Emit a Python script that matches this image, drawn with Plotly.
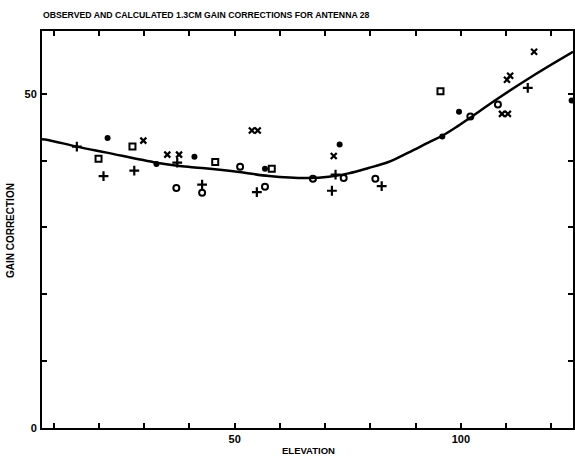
import plotly.graph_objects as go

# Calculated curve
curve_x = [7.4, 8.7, 15.1, 21.7, 32.7, 37.8, 42.8, 51.0, 57.6, 66.4, 70.8, 75.2, 79.6, 84.0, 88.4, 92.8, 96.1, 99.4, 102.0, 108.2, 116.4, 124.8]
curve_y = [43.2, 43.1, 42.1, 41.2, 39.7, 39.2, 38.9, 38.3, 37.7, 37.4, 37.6, 38.1, 38.9, 39.8, 41.2, 42.7, 43.8, 45.2, 46.4, 49.3, 52.9, 56.3]

# Observed points by symbol
plus_x = [15.1, 21.0, 27.8, 37.3, 42.8, 54.9, 71.5, 72.3, 82.5, 114.8]
plus_y = [42.1, 37.7, 38.5, 39.7, 36.4, 35.3, 35.5, 37.9, 36.2, 50.9]

cross_x = [29.8, 35.1, 37.7, 53.8, 55.1, 71.9, 110.2, 110.9, 109.1, 110.4, 116.2]
cross_y = [43.0, 40.9, 40.9, 44.5, 44.5, 40.7, 52.1, 52.7, 47.0, 47.0, 56.3]

ocircle_x = [37.1, 42.8, 51.2, 56.7, 67.3, 74.1, 81.1, 102.1, 108.2]
ocircle_y = [35.9, 35.2, 39.1, 36.1, 37.3, 37.4, 37.3, 46.6, 48.4]

square_x = [19.9, 27.4, 45.7, 58.2, 95.5]
square_y = [40.3, 42.1, 39.8, 38.8, 50.4]

dot_x = [21.9, 32.7, 41.1, 56.7, 73.2, 95.9, 99.6, 124.5]
dot_y = [43.4, 39.5, 40.6, 38.8, 42.4, 43.6, 47.3, 49.0]

x_tickvals = [10, 20, 30, 40, 50, 60, 70, 80, 90, 100, 110, 120]
x_ticktext = ["", "", "", "", "<b>50</b>", "", "", "", "", "<b>100</b>", "", ""]
y_tickvals = [0, 10, 20, 30, 40, 50]
y_ticktext = ["<b>0</b>", "", "", "", "", "<b>50</b>"]

TITLE = "OBSERVED AND CALCULATED 1.3CM GAIN CORRECTIONS FOR ANTENNA 28"
FONT = "Liberation Sans"

fig = go.Figure()
fig.add_trace(go.Scatter(x=curve_x, y=curve_y, mode="lines",
                         line=dict(color="black", width=2.5, shape="spline", smoothing=1.0),
                         showlegend=False))

def add_pts(xs, ys, symbol, size, lw):
    fig.add_trace(go.Scatter(x=xs, y=ys, mode="markers", showlegend=False,
                             marker=dict(symbol=symbol, size=size, color="black",
                                         line=dict(color="black", width=lw))))

add_pts(plus_x, plus_y, "cross-thin", 7, 2.2)
add_pts(cross_x, cross_y, "x-thin", 6, 2.2)
add_pts(ocircle_x, ocircle_y, "circle-open", 6, 2)
add_pts(square_x, square_y, "square-open", 6, 2)
add_pts(dot_x, dot_y, "circle", 6, 0)

axis_common = dict(showline=True, linecolor="black", linewidth=2, mirror="ticks",
                   ticks="inside", ticklen=5, tickwidth=1.5, tickcolor="black",
                   showgrid=False, zeroline=False,
                   tickfont=dict(family=FONT, size=11, color="black"))

fig.update_xaxes(range=[7.4, 124.8], tickvals=x_tickvals, ticktext=x_ticktext, **axis_common)
fig.update_yaxes(range=[0, 59.4], tickvals=y_tickvals, ticktext=y_ticktext, ticklabelstandoff=1, **axis_common)

W, H = 575, 465
L, R, T, B = 42, 0, 31, 37
pw, ph = W - L - R, H - T - B

def px_x(x):
    return (x - L) / pw

def px_y(y):
    return (H - B - y) / ph

fig.update_layout(
    width=W, height=H,
    margin=dict(l=L, r=R, t=T, b=B),
    paper_bgcolor="white", plot_bgcolor="white",
    annotations=[
        dict(text="<b>" + TITLE + "</b>", x=px_x(41), y=px_y(15), xref="paper", yref="paper", showarrow=False,
             font=dict(family=FONT, size=8.7, color="black"), xanchor="left", yanchor="middle"),
        dict(text="<b>ELEVATION</b>", x=px_x(310), y=px_y(450), xref="paper", yref="paper", showarrow=False,
             font=dict(family=FONT, size=9.5, color="black"), xanchor="center", yanchor="middle"),
        dict(text="<b>GAIN CORRECTION</b>", x=px_x(10), y=px_y(231), xref="paper", yref="paper", showarrow=False,
             textangle=-90, font=dict(family=FONT, size=10, color="black"), xanchor="center", yanchor="middle"),
    ],
)

fig.write_html("out.html")
